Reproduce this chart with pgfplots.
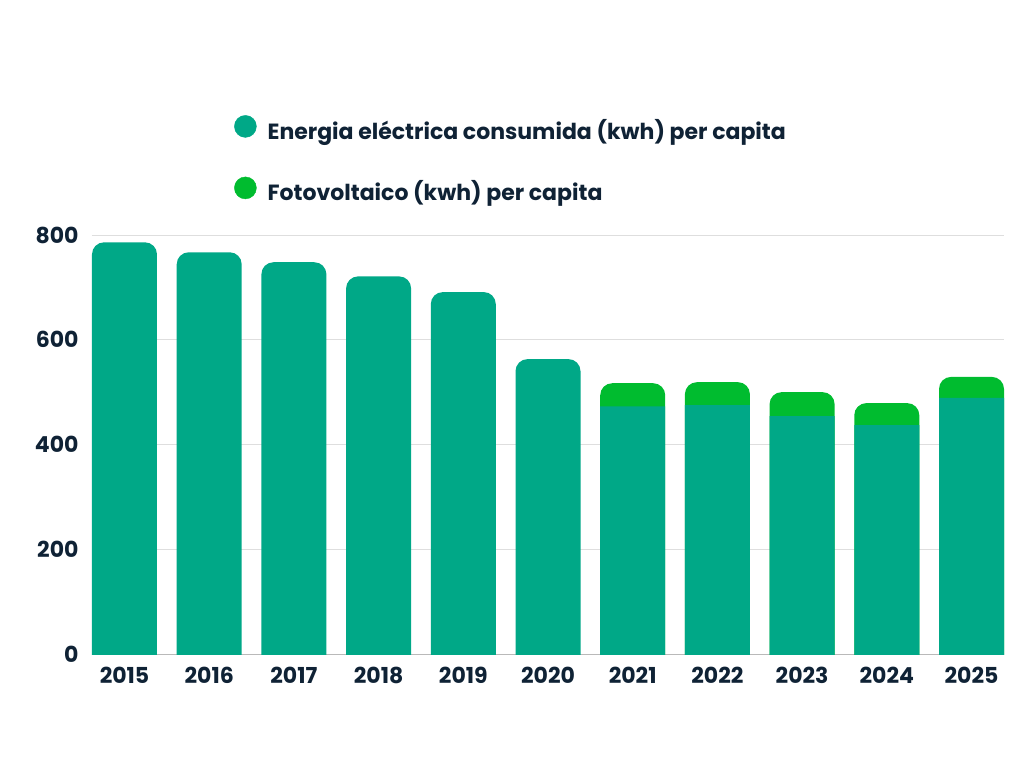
\documentclass[border=0pt]{standalone}
\usepackage{fontspec}
\setmainfont{Poppins}
\usepackage{pgfplots}
\pgfplotsset{compat=1.18}
\definecolor{teal1}{HTML}{00A887}
\definecolor{green1}{HTML}{00BC2F}
\definecolor{txt}{HTML}{0F2235}
\definecolor{gridc}{HTML}{DEDEDE}
\begin{document}
\begin{tikzpicture}
\useasboundingbox (-92pt,-114pt) rectangle (932pt,654pt);
\begin{axis}[
  at={(0pt,0pt)}, anchor=south west,
  scale only axis, width=912pt, height=419pt,
  xmin=-0.3837, xmax=10.3837, ymin=0, ymax=800,
  axis x line*=bottom, axis y line*=left,
  x axis line style={draw=gray!55, line width=1pt, -},
  y axis line style={draw=none},
  ymajorgrids, grid style={draw=gridc, line width=1pt},
  ytick={0,200,400,600,800},
  xtick={0,...,10},
  xticklabels={2015,2016,2017,2018,2019,2020,2021,2022,2023,2024,2025},
  major tick length=0pt,
  /pgf/number format/assume math mode=true,
  ticklabel style={font=\fontsize{22}{26}\selectfont\bfseries, text=txt},
  yticklabel style={xshift=-10pt},
  xticklabel style={yshift=-10pt},
  ybar stacked, stack negative=on previous, reverse stacked plots=false,
  bar width=65pt,
  clip=true,
  legend style={at={(0.1557,1.2864)}, anchor=north west, draw=none, fill=none,
    font=\fontsize{22}{26}\selectfont\bfseries, text=txt,
    row sep=34pt, inner sep=0pt, cells={anchor=west}},
  legend cell align=left,
]
\addlegendimage{legend image code/.code={\fill[teal1] (11pt,0.35em) circle (11pt);\path (31pt,0.35em);}}
\addlegendentry{Energia eléctrica consumida (kwh) per capita}
\addlegendimage{legend image code/.code={\fill[green1] (11pt,0.35em) circle (11pt);\path (31pt,0.35em);}}
\addlegendentry{Fotovoltaico (kwh) per capita}
% invisible offset below zero
\addplot[forget plot, draw=none, fill=none] coordinates {
 (0,-40) (1,-40) (2,-40) (3,-40) (4,-40) (5,-40)
 (6,-40) (7,-40) (8,-40) (9,-40) (10,-40)};
% teal totals 2015-2020 (rounded): 786 767 748 721 691 563
\addplot[forget plot, draw=none, fill=teal1, rounded corners=12pt] coordinates {
 (0,826) (1,807) (2,788) (3,761) (4,731) (5,603)
 (6,0) (7,0) (8,0) (9,0) (10,0)};
% green totals 2021-2025 (rounded): 517 519 500 479 529
\addplot[forget plot, draw=none, fill=green1, rounded corners=12pt] coordinates {
 (0,0) (1,0) (2,0) (3,0) (4,0) (5,0)
 (6,557) (7,559) (8,540) (9,519) (10,569)};
% back to slightly below zero
\addplot[forget plot, draw=none, fill=none] coordinates {
 (0,-796) (1,-777) (2,-758) (3,-731) (4,-701) (5,-573)
 (6,-527) (7,-529) (8,-510) (9,-489) (10,-539)};
% teal square bases 2021-2025: 473 475 454 437 489
\addplot[forget plot, draw=none, fill=teal1] coordinates {
 (0,0) (1,0) (2,0) (3,0) (4,0) (5,0)
 (6,483) (7,485) (8,464) (9,447) (10,499)};
\end{axis}
\end{tikzpicture}
\end{document}
